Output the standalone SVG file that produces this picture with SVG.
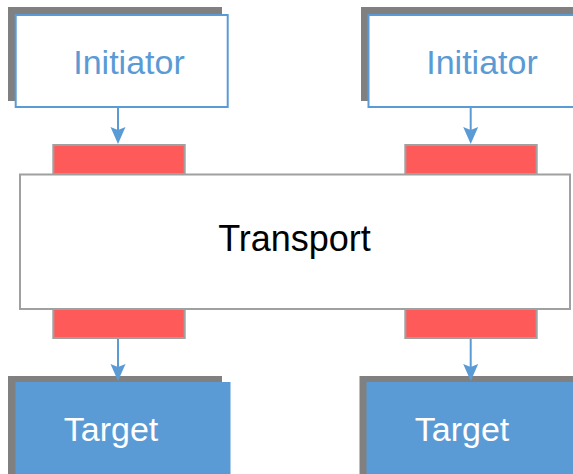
<svg xmlns="http://www.w3.org/2000/svg" width="573" height="474" viewBox="0 0 573 474">
<style>
.shadow{fill:#808080;}
.init{fill:#ffffff;stroke:#5b9bd5;stroke-width:2;}
.target{fill:#5b9bd5;stroke:#5b9bd5;stroke-width:1;}
.port{fill:#ff5a5a;stroke:#a0a0a0;stroke-width:2;}
.transport{fill:#ffffff;stroke:#a0a0a0;stroke-width:2;}
.lbl{font-family:"Liberation Sans",Arial,Helvetica,sans-serif;font-size:34px;text-anchor:middle;}
.conn{stroke:#5b9bd5;stroke-width:2;fill:none;}
.head{fill:#5b9bd5;}
</style>
<g id="transport">
<rect class="transport" x="20" y="174.5" width="550" height="134.5"/>
<text class="lbl" x="294.5" y="251" style="font-size:36px" fill="#000000">Transport</text>
</g>
<g id="port-top-left"><rect class="port" x="53.3" y="145" width="131.4" height="29"/></g>
<g id="port-top-right"><rect class="port" x="405.3" y="145" width="131.4" height="29"/></g>
<g id="port-bottom-left"><rect class="port" x="53.3" y="309" width="131.4" height="29"/></g>
<g id="port-bottom-right"><rect class="port" x="405.3" y="309" width="131.4" height="29"/></g>
<g id="initiator-left">
<rect class="shadow" x="8" y="7" width="214" height="94"/>
<rect class="init" x="15.7" y="15" width="212" height="92"/>
<text class="lbl" x="129" y="74" fill="#5b9bd5">Initiator</text>
</g>
<g id="initiator-right">
<rect class="shadow" x="361" y="7" width="214" height="94"/>
<rect class="init" x="368.5" y="15" width="212" height="92"/>
<text class="lbl" x="482" y="74" fill="#5b9bd5">Initiator</text>
</g>
<g id="target-left">
<rect class="shadow" x="8" y="376" width="214" height="110"/>
<rect class="target" x="16" y="382.5" width="214" height="110"/>
<text class="lbl" x="111" y="441" fill="#ffffff">Target</text>
</g>
<g id="target-right">
<rect class="shadow" x="359.5" y="376" width="214" height="110"/>
<rect class="target" x="367" y="382.5" width="214" height="110"/>
<text class="lbl" x="462" y="441" fill="#ffffff">Target</text>
</g>
<g id="connectors">
<line class="conn" x1="118" y1="107" x2="118" y2="134"/>
<path class="head" d="M110.5,127 L118,130 L125.5,127 L118,144 Z"/>
<line class="conn" x1="470.7" y1="107" x2="470.7" y2="134"/>
<path class="head" d="M463.2,127 L470.7,130 L478.2,127 L470.7,144 Z"/>
<line class="conn" x1="118" y1="339" x2="118" y2="370"/>
<path class="head" d="M110.5,364 L118,367 L125.5,364 L118,381 Z"/>
<line class="conn" x1="470.7" y1="339" x2="470.7" y2="370"/>
<path class="head" d="M463.2,364 L470.7,367 L478.2,364 L470.7,381 Z"/>
</g>
</svg>
